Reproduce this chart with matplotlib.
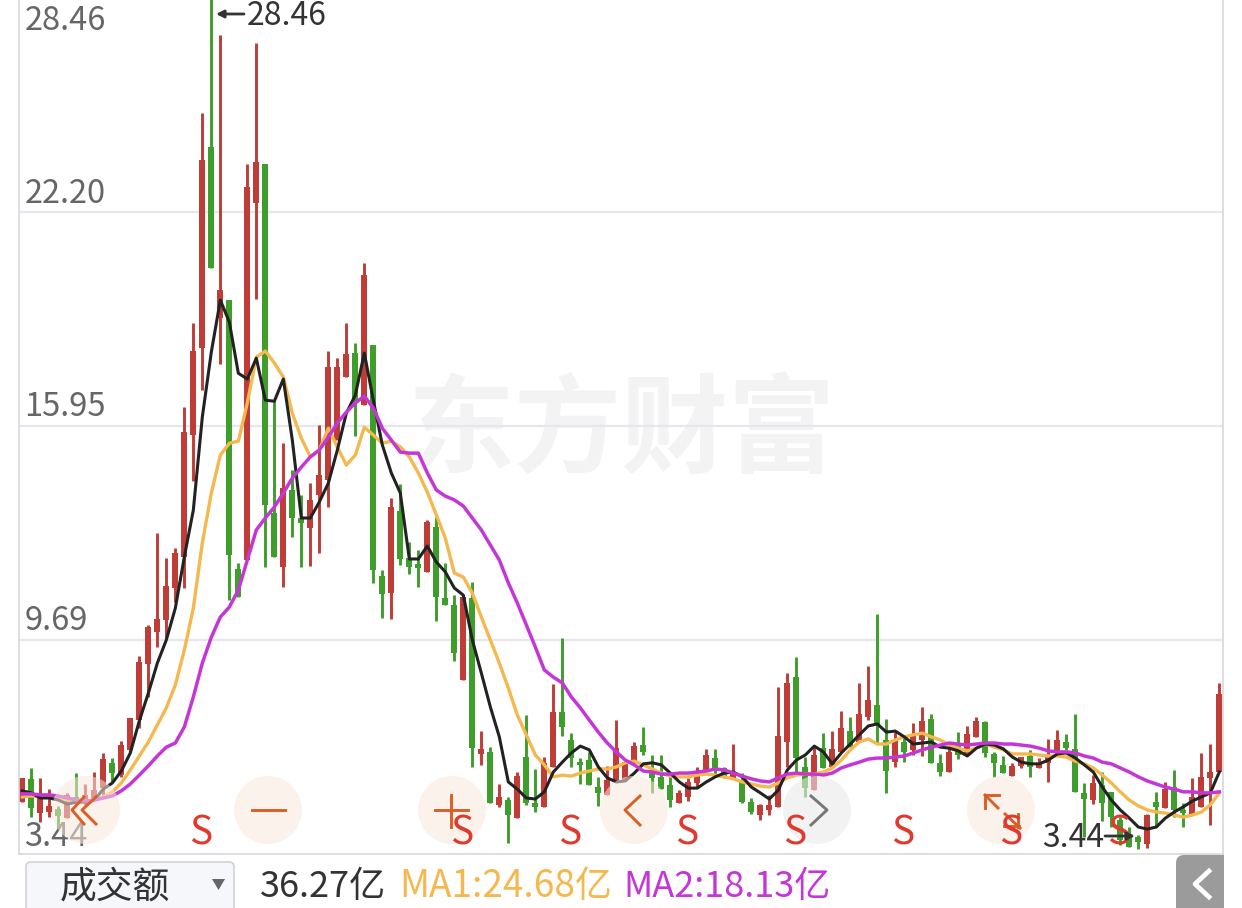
import matplotlib
matplotlib.use('Agg')
import matplotlib.pyplot as plt
from matplotlib.patches import Circle, FancyBboxPatch, Polygon

plt.rcParams['font.family'] = ['Noto Sans CJK SC', 'DejaVu Sans']

# candle colours, r = up and g = down, ten per group
candle_kind = ('rgrrgrgrrr' 'grrrrrrrrr' 'rgrggrrggr' 'ggrrrrrgrg' 'grgggrgggr'
               'grgrgrggrr' 'gggggrrrrg' 'gggrrrrggr' 'ggrrrrggrg' 'rrgrrggrgr'
               'rggrgrrggg' 'rrgrrrgggr' 'gggggrgrgg' 'rrrr')

high = [5.64, 5.93, 5.64, 5.31, 4.82, 5.20, 5.78, 5.46, 5.81, 6.37,
        6.22, 6.72, 7.39, 9.21, 10.12, 12.81, 12.08, 12.37, 16.50, 18.96,
        25.11, 28.46, 27.39, 19.63, 11.93, 23.61, 27.16, 23.61, 16.70, 15.44,
        14.65, 13.92, 14.27, 15.97, 18.14, 17.93, 18.96, 18.37, 20.72, 18.31,
        11.73, 13.83, 14.24, 12.55, 12.31, 13.19, 13.28, 11.93, 10.99, 10.94,
        11.37, 7.01, 6.54, 5.46, 5.08, 5.81, 7.48, 5.90, 6.25, 8.39,
        9.74, 6.95, 6.22, 6.40, 5.67, 5.99, 7.33, 6.10, 6.69, 7.13,
        6.31, 6.31, 5.81, 5.28, 5.64, 5.96, 6.49, 6.49, 5.96, 6.63,
        5.78, 5.05, 4.87, 5.14, 8.30, 8.71, 9.18, 6.25, 6.54, 6.95,
        7.01, 7.60, 7.42, 8.42, 8.92, 10.44, 7.36, 6.98, 6.81, 7.25,
        7.72, 7.51, 6.34, 6.54, 6.98, 7.16, 7.42, 7.31, 6.40, 6.28,
        6.08, 6.25, 6.46, 6.22, 6.78, 7.04, 6.92, 7.51, 5.49, 5.72,
        5.81, 5.23, 4.49, 4.20, 3.97, 4.58, 5.23, 5.52, 5.87, 4.90,
        5.64, 6.37, 6.63, 8.42]

body_top = [5.64, 5.61, 5.14, 4.82, 4.73, 5.14, 5.08, 5.14, 5.28, 6.19,
            6.08, 6.60, 7.39, 9.03, 10.06, 10.29, 11.26, 12.22, 15.77, 18.14,
            23.73, 24.11, 19.92, 19.63, 11.76, 22.94, 23.67, 23.61, 13.40, 14.13,
            14.07, 13.25, 13.78, 14.51, 17.67, 17.67, 18.05, 18.08, 20.36, 18.31,
            11.55, 13.57, 13.45, 12.08, 11.90, 13.13, 12.99, 10.91, 10.70, 10.94,
            10.91, 6.49, 6.40, 5.08, 4.99, 5.69, 6.25, 4.90, 6.08, 7.57,
            7.57, 6.75, 6.10, 6.16, 5.37, 5.58, 6.51, 6.10, 6.57, 6.60,
            5.81, 5.67, 5.43, 5.20, 5.52, 5.72, 6.31, 6.22, 5.93, 5.81,
            5.52, 4.93, 4.85, 4.85, 6.87, 8.42, 8.59, 5.96, 6.31, 6.51,
            6.49, 7.10, 7.01, 7.51, 7.92, 7.77, 6.75, 6.75, 6.69, 6.90,
            7.31, 7.36, 6.08, 6.40, 6.66, 6.92, 7.31, 7.28, 6.34, 6.02,
            5.99, 6.25, 6.28, 6.08, 6.31, 6.75, 6.69, 6.49, 5.20, 5.49,
            5.43, 5.23, 4.41, 3.91, 3.91, 4.55, 4.93, 5.31, 5.37, 4.70,
            5.08, 5.67, 5.81, 8.10]

body_bottom = [4.93, 4.76, 4.61, 4.64, 4.52, 4.46, 4.90, 4.93, 5.05, 5.34,
               5.78, 5.72, 6.46, 7.33, 8.97, 9.91, 10.26, 11.20, 12.11, 15.68,
               18.23, 20.57, 19.10, 12.17, 10.94, 12.02, 22.47, 13.63, 12.11, 11.81,
               13.25, 13.10, 12.96, 13.92, 14.36, 15.53, 17.38, 16.70, 16.56, 11.73,
               11.02, 11.05, 12.05, 11.81, 11.78, 11.67, 10.94, 10.70, 9.30, 8.51,
               6.51, 6.34, 4.90, 4.85, 4.55, 4.46, 4.90, 4.79, 4.79, 5.96,
               7.13, 6.22, 6.02, 5.43, 5.20, 5.14, 5.52, 5.58, 6.08, 6.40,
               5.64, 5.31, 4.99, 4.90, 5.08, 5.49, 5.87, 5.93, 5.64, 5.64,
               4.93, 4.64, 4.55, 4.70, 4.79, 6.69, 6.22, 5.34, 5.28, 5.93,
               5.96, 6.40, 6.54, 6.69, 7.42, 7.19, 5.84, 6.10, 6.40, 6.46,
               6.75, 6.08, 5.81, 5.81, 6.31, 6.31, 6.84, 6.37, 6.08, 5.78,
               5.69, 5.99, 5.96, 5.93, 6.08, 6.40, 6.51, 5.23, 5.02, 4.99,
               4.90, 4.49, 3.82, 3.62, 3.76, 3.70, 4.79, 4.76, 4.70, 4.61,
               4.55, 4.79, 5.64, 5.81]

low = [4.93, 4.49, 4.35, 4.49, 4.17, 4.46, 4.85, 4.85, 4.99, 5.14,
       5.52, 5.67, 6.40, 7.10, 8.01, 9.47, 9.74, 10.79, 11.20, 14.33,
       17.00, 20.57, 17.76, 10.85, 10.94, 12.02, 19.66, 11.81, 12.11, 11.23,
       12.69, 11.81, 11.84, 12.22, 13.57, 15.53, 17.38, 15.65, 16.56, 11.35,
       10.32, 10.29, 11.87, 11.61, 11.23, 11.67, 10.23, 10.70, 9.06, 8.51,
       5.96, 6.02, 4.90, 4.79, 3.73, 4.46, 4.85, 4.64, 4.79, 5.96,
       6.87, 5.96, 5.46, 5.43, 4.82, 5.14, 5.52, 5.58, 6.08, 6.31,
       5.20, 5.31, 4.79, 4.90, 4.96, 5.34, 5.87, 5.67, 5.64, 5.64,
       4.90, 4.58, 4.41, 4.55, 4.79, 5.96, 5.81, 5.08, 5.28, 5.93,
       5.96, 6.40, 6.54, 6.69, 7.33, 6.66, 5.20, 5.96, 6.10, 6.31,
       6.28, 6.08, 5.69, 5.81, 6.19, 6.31, 6.84, 6.25, 5.67, 5.78,
       5.69, 5.93, 5.67, 5.93, 5.52, 6.40, 6.46, 5.23, 3.91, 4.87,
       4.38, 4.20, 3.67, 3.62, 3.56, 3.59, 4.20, 4.76, 4.49, 4.20,
       4.55, 4.79, 4.26, 5.81]

ma_black = [5.26, 5.20, 5.05, 5.05, 4.99, 4.87, 4.93, 4.93, 4.99, 5.31,
            5.49, 5.84, 6.37, 7.31, 8.12, 9.00, 9.68, 10.61, 12.11, 13.48,
            16.21, 18.11, 19.63, 18.99, 17.49, 17.32, 17.93, 16.70, 16.67, 17.32,
            15.53, 13.25, 13.25, 13.72, 14.27, 15.24, 16.32, 16.85, 18.08, 16.70,
            15.39, 14.57, 13.98, 12.05, 12.05, 12.43, 11.96, 11.67, 11.20, 10.99,
            9.68, 8.71, 7.72, 6.84, 5.52, 5.31, 5.05, 5.02, 5.23, 5.81,
            6.10, 6.37, 6.57, 6.46, 5.96, 5.64, 5.52, 5.55, 5.78, 6.05,
            6.08, 6.02, 5.78, 5.52, 5.34, 5.34, 5.52, 5.67, 5.78, 5.81,
            5.67, 5.37, 5.20, 5.02, 5.28, 5.87, 6.16, 6.31, 6.57, 6.40,
            6.05, 6.37, 6.63, 6.90, 7.16, 7.22, 6.98, 7.01, 6.84, 6.63,
            6.66, 6.69, 6.54, 6.51, 6.43, 6.28, 6.51, 6.63, 6.60, 6.49,
            6.25, 6.10, 6.05, 6.05, 6.16, 6.34, 6.37, 6.22, 6.02, 5.81,
            5.37, 4.99, 4.70, 4.46, 4.20, 4.14, 4.20, 4.46, 4.64, 4.79,
            4.96, 5.08, 5.20, 5.81]

ma1 = [5.08, 5.11, 5.08, 5.08, 5.05, 4.99, 4.96, 4.96, 4.99, 5.08,
       5.23, 5.49, 5.87, 6.28, 6.69, 7.19, 7.69, 8.36, 9.38, 10.61,
       12.52, 13.98, 15.09, 15.44, 15.50, 16.62, 17.96, 18.14, 17.79, 17.38,
       16.32, 15.59, 15.04, 15.24, 15.88, 15.33, 14.80, 15.09, 15.91, 15.68,
       15.44, 15.50, 15.33, 15.04, 14.57, 14.01, 13.34, 12.66, 11.64, 11.52,
       11.05, 10.35, 9.68, 9.00, 8.27, 7.48, 6.90, 6.31, 6.02, 5.67,
       5.72, 5.69, 5.78, 5.84, 5.90, 5.90, 5.96, 6.08, 6.13, 6.02,
       5.90, 5.78, 5.69, 5.67, 5.67, 5.72, 5.75, 5.72, 5.67, 5.61,
       5.52, 5.46, 5.40, 5.37, 5.49, 5.64, 5.72, 5.75, 5.75, 5.81,
       5.93, 6.16, 6.46, 6.69, 6.78, 6.63, 6.63, 6.75, 6.84, 6.90,
       6.95, 6.84, 6.75, 6.60, 6.51, 6.43, 6.51, 6.63, 6.54, 6.46,
       6.34, 6.34, 6.34, 6.31, 6.28, 6.28, 6.25, 6.13, 6.05, 5.93,
       5.72, 5.49, 5.23, 4.99, 4.82, 4.70, 4.64, 4.61, 4.55, 4.49,
       4.55, 4.64, 4.85, 5.20]

ma2 = [5.17, 5.17, 5.14, 5.14, 5.11, 5.05, 4.99, 4.96, 4.99, 5.05,
       5.11, 5.26, 5.46, 5.72, 5.99, 6.28, 6.54, 6.66, 7.13, 8.01,
       9.00, 9.76, 10.35, 10.64, 11.14, 12.02, 12.90, 13.25, 13.57, 13.98,
       14.42, 14.74, 15.04, 15.24, 15.62, 16.03, 16.35, 16.62, 16.82, 16.47,
       15.88, 15.53, 15.18, 15.15, 15.15, 14.57, 14.07, 13.89, 13.78, 13.60,
       13.25, 12.90, 12.46, 12.02, 11.35, 10.76, 10.12, 9.47, 8.80, 8.59,
       8.42, 8.01, 7.69, 7.33, 6.98, 6.66, 6.40, 6.16, 6.02, 5.84,
       5.81, 5.75, 5.75, 5.78, 5.78, 5.81, 5.84, 5.90, 5.87, 5.78,
       5.69, 5.61, 5.55, 5.52, 5.64, 5.75, 5.78, 5.75, 5.75, 5.72,
       5.78, 5.93, 6.02, 6.10, 6.19, 6.22, 6.22, 6.25, 6.28, 6.37,
       6.46, 6.54, 6.60, 6.66, 6.63, 6.60, 6.63, 6.66, 6.66, 6.63,
       6.63, 6.60, 6.57, 6.51, 6.43, 6.40, 6.40, 6.37, 6.28, 6.22,
       6.10, 6.05, 5.93, 5.81, 5.67, 5.55, 5.46, 5.37, 5.31, 5.23,
       5.23, 5.20, 5.20, 5.23]

y_labels = ['28.46', '22.20', '15.95', '9.69', '3.44']
y_ticks = [28.46, 22.20, 15.95, 9.69, 3.44]
grid_values = [22.20, 15.95, 9.69]
s_marks = [20, 49, 61, 74, 86, 98, 110, 122]

RED = '#BF3C37'
GREEN = '#3F9E2B'
ORANGE = '#F4B84F'
PURPLE = '#C437D6'
ICON = '#DC5E27'

W, H = 1242, 908
fig = plt.figure(figsize=(W / 100, H / 100), dpi=100, facecolor='white')

# watermark sits under the chart
fig.text(622 / W, 1 - 433 / H, '东方财富', fontsize=77, fontweight='bold', color='#F3F3F3',
         ha='center', va='center', zorder=-1)

ax = fig.add_axes([19 / W, 1 - 854 / H, (1223 - 19) / W, 854 / H])
ax.patch.set_alpha(0)
ax.set_xlim(-0.37, 133.41)
ax.set_ylim(3.41, 28.42)
ax.set_xticks([])
ax.set_yticks([])
ax.spines['top'].set_visible(False)
for side in ['left', 'right', 'bottom']:
    ax.spines[side].set_color('#D8D8DC')
    ax.spines[side].set_linewidth(1.2)

for g in grid_values:
    ax.axhline(g, color='#E6E6EF', lw=1.6, zorder=1)

x = list(range(len(high)))
colors = [RED if k == 'r' else GREEN for k in candle_kind]
ax.vlines(x, low, high, colors=colors, lw=2.1, zorder=2)
heights = [t - b for t, b in zip(body_top, body_bottom)]
ax.bar(x, heights, bottom=body_bottom, width=0.68, color=colors, zorder=2)

ax.plot(x, ma1, color=ORANGE, lw=2.4, zorder=3)
ax.plot(x, ma_black, color='#222222', lw=2.2, zorder=4)
ax.plot(x, ma2, color=PURPLE, lw=2.5, zorder=5)

for lab, val in zip(y_labels, y_ticks):
    pos = 1.0 if val == y_ticks[0] else (val - 3.41) / (28.42 - 3.41)
    # labels sit just above their line, the top one hangs from the edge
    off = 2
    if val == y_ticks[0]:
        off = -27
    if val == y_ticks[-1]:
        off = 0
    ax.annotate(lab, xy=(0, pos), xycoords='axes fraction', xytext=(4, off), textcoords='offset points',
                fontsize=23.5, color='#666666', va='bottom', ha='left', zorder=6)

# overlay in pixels for the zoom buttons and bottom bar
ov = fig.add_axes([0, 0, 1, 1], zorder=5)
ov.set_xlim(0, W)
ov.set_ylim(H, 0)
ov.axis('off')

for cx in [86, 268, 452, 634, 1001]:
    ov.add_patch(Circle((cx, 810), 34, fc='#F8E8DC', ec='none', alpha=0.55))
ov.add_patch(Circle((817, 810), 34, fc='#EAEAEA', ec='none', alpha=0.6))

ilw = 2.1
ov.plot([84, 72, 84], [797, 810, 824], color=ICON, lw=ilw)
ov.plot([96, 82, 96], [797, 810, 824], color=ICON, lw=ilw)
ov.plot([252, 285], [810, 810], color=ICON, lw=ilw)
ov.plot([435, 468], [810, 810], color=ICON, lw=ilw)
ov.plot([451, 451], [795, 827], color=ICON, lw=ilw)
ov.plot([640, 625, 640], [796, 810, 825], color=ICON, lw=ilw)
ov.plot([811, 827, 811], [796, 810, 825], color='#777777', lw=ilw)
ov.plot([985, 998], [795, 808], color=ICON, lw=ilw)
ov.plot([985, 985], [808, 795], color=ICON, lw=ilw)
ov.plot([985, 999], [795, 795], color=ICON, lw=ilw)
ov.plot([1005, 1020], [814, 828], color=ICON, lw=ilw)
ov.plot([1018, 1018], [814, 827], color=ICON, lw=ilw)
ov.plot([1004, 1019], [826, 826], color=ICON, lw=ilw)

# sell marks go over the buttons
for i in s_marks:
    ov.annotate('S', xy=(i, 0), xycoords=ax.get_xaxis_transform(), xytext=(-1, 0.5), textcoords='offset points',
                fontsize=28, color='#E03A2F', ha='center', va='bottom', annotation_clip=False)

# max and min notes
ov.annotate('', xy=(216, 14), xytext=(244, 14), arrowprops=dict(arrowstyle='-|>', color='#333333', lw=2, mutation_scale=11, shrinkA=0, shrinkB=0))
ov.text(247, 16, '28.46', fontsize=23, color='#333333', va='center', ha='left')
ov.text(1042, 838, '3.44', fontsize=23, color='#333333', va='center', ha='left')
ov.annotate('', xy=(1135, 836), xytext=(1105, 836), arrowprops=dict(arrowstyle='-|>', color='#333333', lw=2, mutation_scale=11, shrinkA=0, shrinkB=0))

# bottom bar
ov.add_patch(FancyBboxPatch((26, 862), 208, 60, boxstyle='round,pad=0,rounding_size=5', fc='#F5F7FA', ec='#CFCFD3', lw=1.1))
ov.text(115, 887, '成交额', fontsize=26.5, color='#333333', ha='center', va='center')
ov.add_patch(Polygon([[212, 879], [225, 879], [218.5, 890]], fc='#666666', ec='none'))
ov.text(260, 887, '36.27亿', fontsize=26, color='#333333', ha='left', va='center')
ov.text(399, 887, 'MA1:24.68亿', fontsize=26.6, color=ORANGE, ha='left', va='center')
ov.text(623, 887, 'MA2:18.13亿', fontsize=26, color=PURPLE, ha='left', va='center')

ov.add_patch(FancyBboxPatch((1176, 855), 70, 70, boxstyle='round,pad=0,rounding_size=8', fc='#9B9B9B', ec='none'))
ov.add_patch(plt.Rectangle((1224, 850), 20, 60, fc='white', ec='none'))
ov.plot([1209, 1195, 1209], [871, 884, 897], color='white', lw=3.4)

fig.savefig('out.png', dpi=100)
